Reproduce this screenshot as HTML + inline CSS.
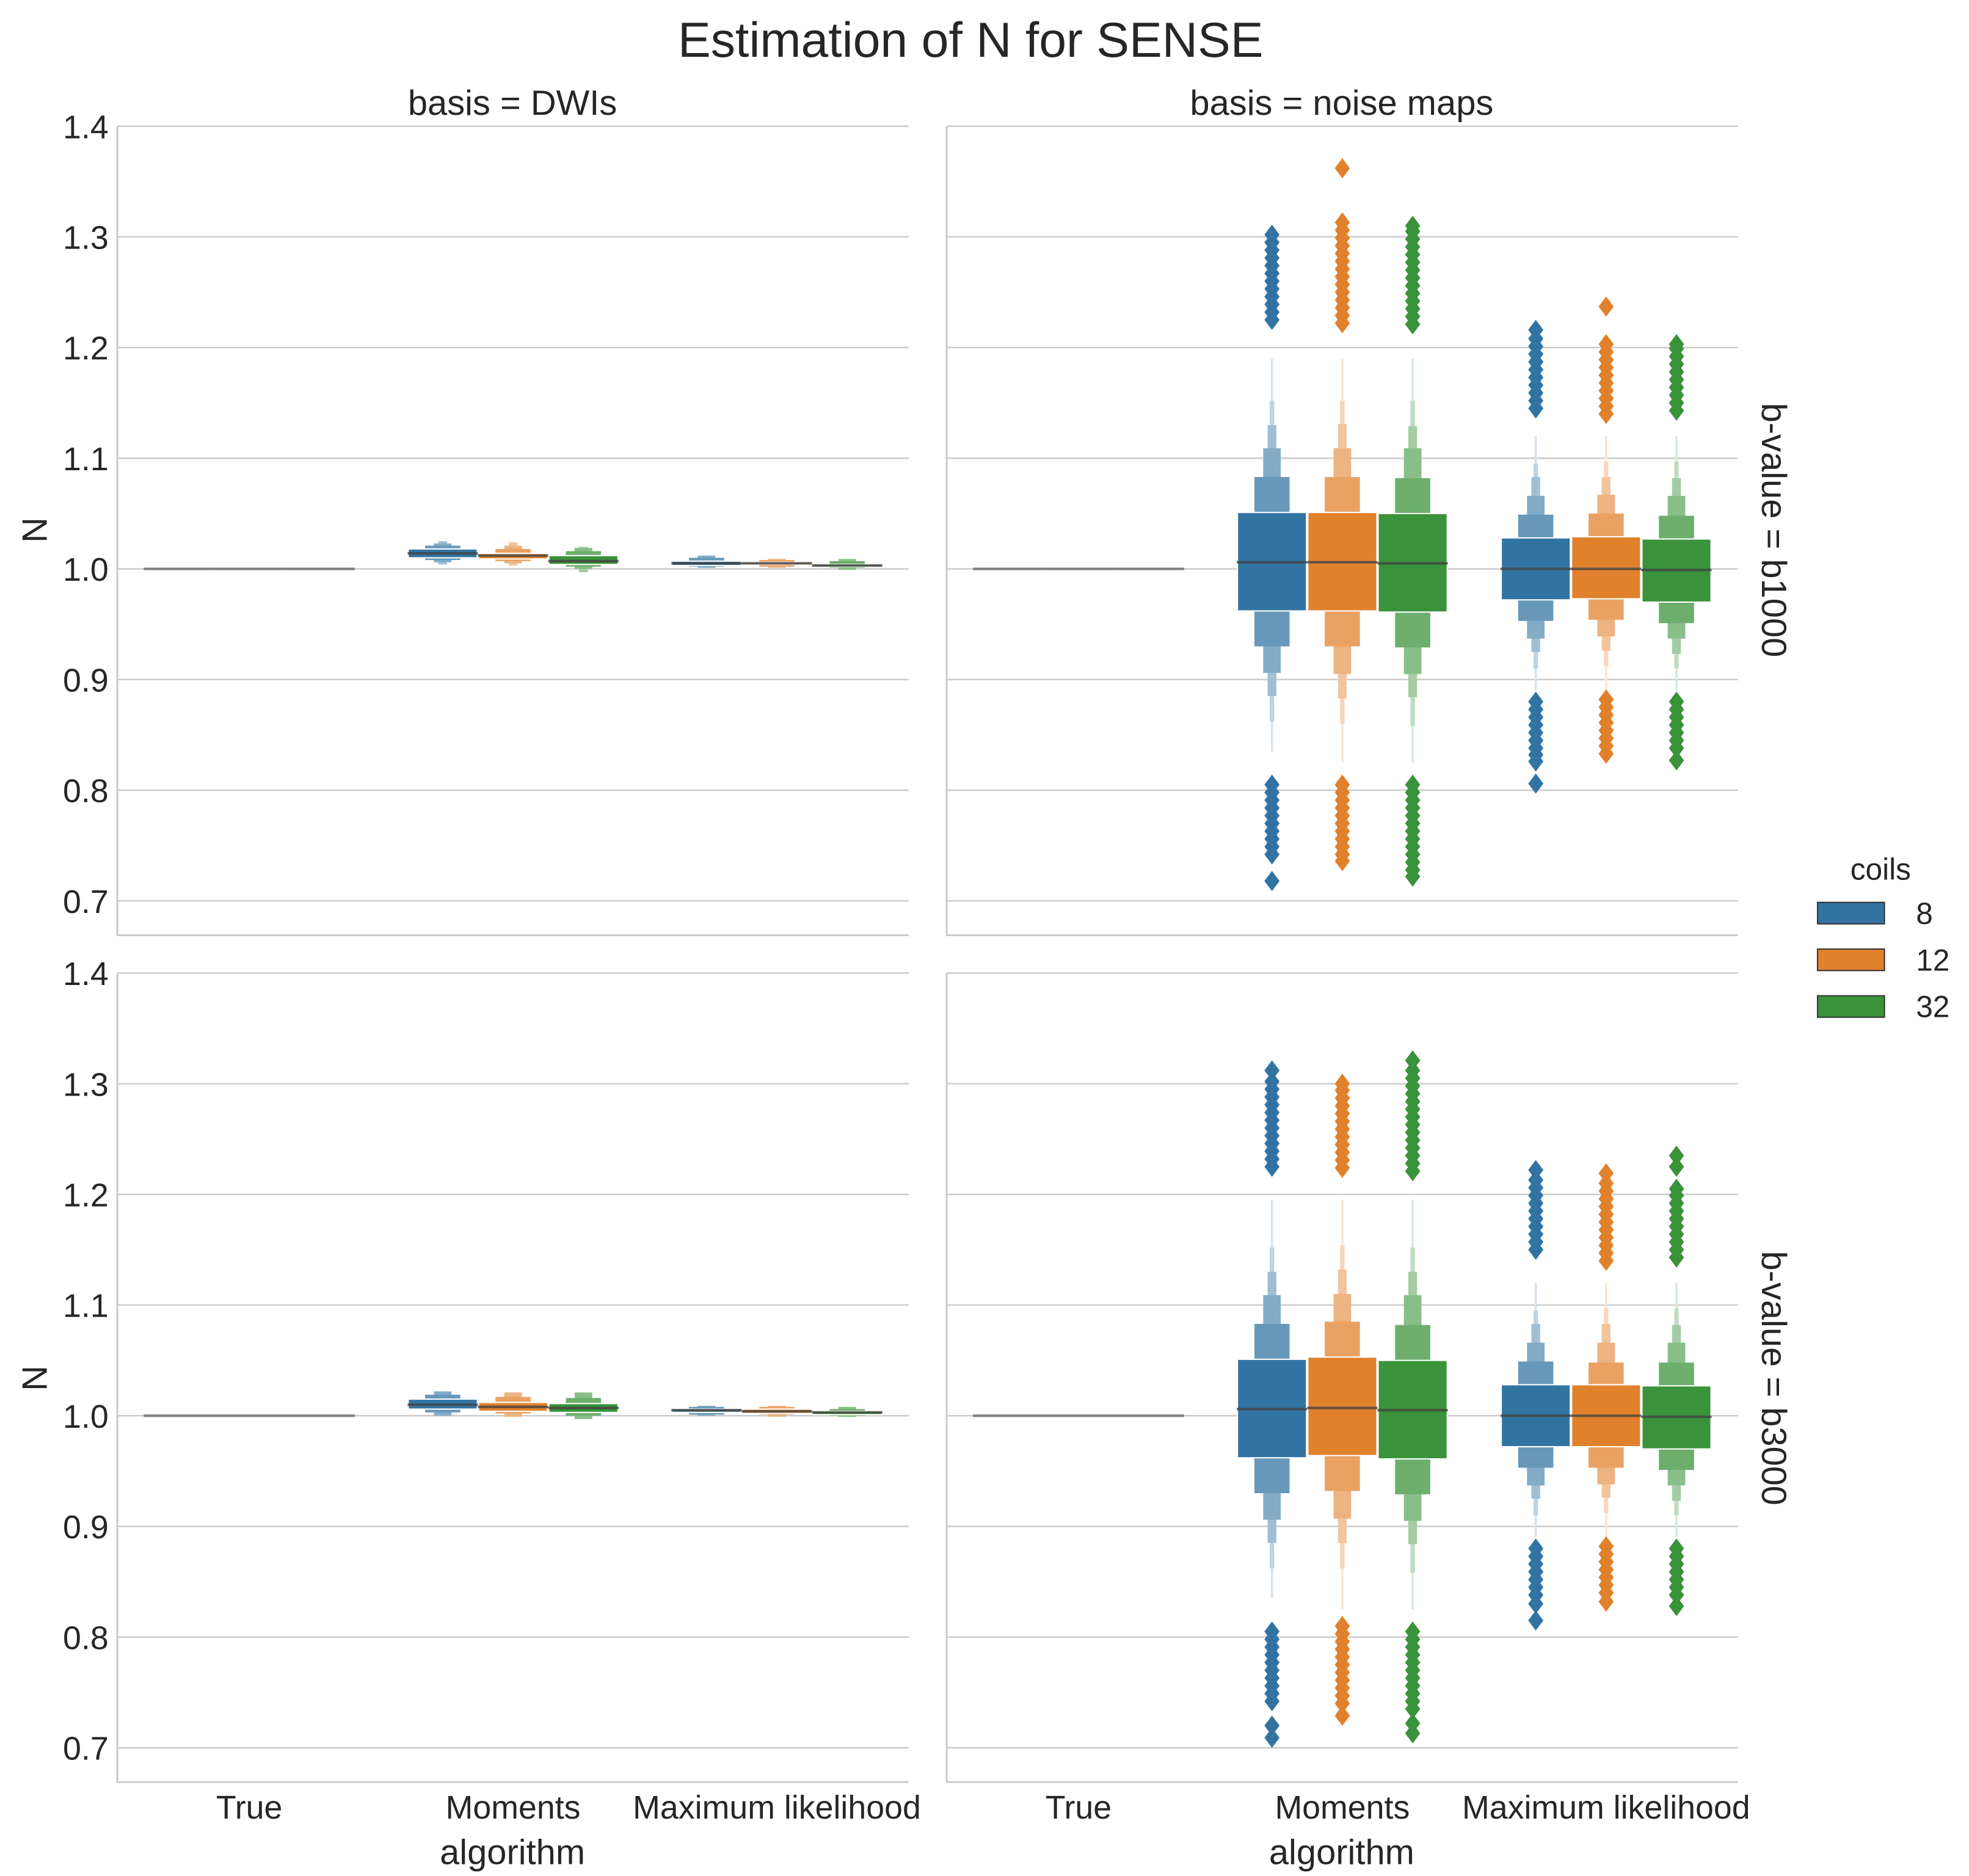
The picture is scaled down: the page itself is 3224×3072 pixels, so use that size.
<!DOCTYPE html>
<html><head><meta charset="utf-8"><style>html,body{margin:0;padding:0;background:#fff}svg{display:block}</style></head>
<body>
<svg id="chart" width="3224" height="3072" viewBox="0 0 1560 1486.45" xmlns="http://www.w3.org/2000/svg" font-family="Liberation Sans, DejaVu Sans, sans-serif" fill="#262626">
<text x="769" y="45" font-size="39" text-anchor="middle">Estimation of N for SENSE</text>
<text x="406" y="91" font-size="28" text-anchor="middle">basis = DWIs</text>
<text x="1063" y="91" font-size="28" text-anchor="middle">basis = noise maps</text>
<text font-size="28" text-anchor="middle" transform="translate(1396,420) rotate(90)">b-value = b1000</text>
<text font-size="28" text-anchor="middle" transform="translate(1396,1092) rotate(90)">b-value = b3000</text>
<text font-size="28" text-anchor="middle" transform="translate(37,420) rotate(-90)">N</text>
<text font-size="28" text-anchor="middle" transform="translate(37,1092) rotate(-90)">N</text>
<text x="406" y="1477" font-size="28" text-anchor="middle">algorithm</text>
<text x="1063" y="1477" font-size="28" text-anchor="middle">algorithm</text>
<g>
<text x="1490" y="697" font-size="24" text-anchor="middle">coils</text>
<rect x="1440" y="715" width="53" height="17" fill="#3274a1" stroke="#333" stroke-width="1"/>
<text x="1518" y="732" font-size="24">8</text>
<rect x="1440" y="752" width="53" height="17" fill="#e1812c" stroke="#333" stroke-width="1"/>
<text x="1518" y="769" font-size="24">12</text>
<rect x="1440" y="789" width="53" height="17" fill="#3a923a" stroke="#333" stroke-width="1"/>
<text x="1518" y="806" font-size="24">32</text>
</g>
<g id="panels"></g>
</svg>
<script>
const categories = ["True", "Moments", "Maximum likelihood"];
const hues = ["8", "12", "32"];
const yTicks = [0.7, 0.8, 0.9, 1.0, 1.1, 1.2, 1.3, 1.4];
const yTickLabels = ["0.7", "0.8", "0.9", "1.0", "1.1", "1.2", "1.3", "1.4"];
const colors = ["#3274a1", "#e1812c", "#3a923a"];

const dwiB1000Medians = [[1,1,1],[1.014,1.012,1.007],[1.005,1.005,1.003]];
const dwiB1000Levels = [
 [[[1,1]],[[1,1]],[[1,1]]],
 [[[1.010,1.018],[1.008,1.021],[1.006,1.023],[1.004,1.025]],[[1.009,1.014],[1.007,1.018],[1.005,1.021],[1.003,1.024]],[[1.004,1.012],[1.002,1.016],[1.000,1.019],[0.997,1.020]]],
 [[[1.003,1.007],[1.002,1.010],[1.001,1.012]],[[1.004,1.006],[1.002,1.008],[1.001,1.009]],[[1.002,1.004],[1.001,1.007],[0.999,1.009]]]
];
const dwiB3000Medians = [[1,1,1],[1.010,1.008,1.007],[1.005,1.004,1.003]];
const dwiB3000Levels = [
 [[[1,1]],[[1,1]],[[1,1]]],
 [[[1.006,1.015],[1.003,1.019],[1.000,1.022]],[[1.004,1.012],[1.002,1.017],[0.999,1.021]],[[1.003,1.011],[1.000,1.016],[0.997,1.021]]],
 [[[1.003,1.006],[1.001,1.008],[1.000,1.009]],[[1.002,1.006],[1.001,1.008],[0.999,1.009]],[[1.001,1.004],[1.000,1.006],[0.999,1.008]]]
];
const noiseB1000Medians = [[1,1,1],[1.006,1.006,1.005],[1.000,1.000,0.999]];
const noiseB1000Levels = [
 [[[1,1]],[[1,1]],[[1,1]]],
 [[[0.962,1.051],[0.930,1.083],[0.906,1.109],[0.885,1.130],[0.862,1.152],[0.835,1.190]],
  [[0.962,1.051],[0.930,1.083],[0.905,1.109],[0.883,1.131],[0.860,1.152],[0.825,1.190]],
  [[0.961,1.050],[0.929,1.082],[0.905,1.109],[0.884,1.129],[0.858,1.152],[0.825,1.190]]],
 [[[0.972,1.028],[0.953,1.049],[0.937,1.066],[0.925,1.083],[0.910,1.095],[0.890,1.120]],
  [[0.973,1.029],[0.954,1.050],[0.939,1.067],[0.926,1.083],[0.912,1.097],[0.890,1.120]],
  [[0.970,1.027],[0.951,1.048],[0.937,1.066],[0.923,1.082],[0.910,1.097],[0.890,1.120]]]
];
const noiseB1000Outliers = [
 [[],[],[]],
 [[1.225,1.232,1.239,1.246,1.253,1.260,1.267,1.274,1.281,1.288,1.295,1.302,0.805,0.798,0.791,0.784,0.777,0.770,0.763,0.756,0.749,0.742,0.718],
  [1.222,1.229,1.236,1.243,1.250,1.257,1.264,1.271,1.278,1.285,1.292,1.299,1.306,1.313,1.362,0.805,0.798,0.791,0.784,0.777,0.770,0.763,0.756,0.749,0.742,0.736],
  [1.221,1.228,1.235,1.242,1.249,1.256,1.263,1.270,1.277,1.284,1.291,1.298,1.305,1.310,0.805,0.798,0.791,0.784,0.777,0.770,0.763,0.756,0.749,0.742,0.735,0.728,0.722]],
 [[1.145,1.152,1.159,1.166,1.173,1.180,1.187,1.194,1.201,1.208,1.216,0.880,0.873,0.866,0.859,0.852,0.845,0.838,0.832,0.826,0.806],
  [1.140,1.147,1.154,1.161,1.168,1.175,1.182,1.189,1.196,1.203,1.237,0.882,0.875,0.868,0.861,0.854,0.847,0.840,0.833],
  [1.143,1.150,1.157,1.164,1.171,1.178,1.185,1.192,1.199,1.203,0.880,0.873,0.866,0.859,0.852,0.845,0.838,0.827]]
];
const noiseB3000Medians = [[1,1,1],[1.006,1.007,1.005],[1.000,1.000,0.999]];
const noiseB3000Levels = [
 [[[1,1]],[[1,1]],[[1,1]]],
 [[[0.962,1.051],[0.930,1.083],[0.906,1.109],[0.885,1.130],[0.862,1.152],[0.835,1.195]],
  [[0.964,1.053],[0.932,1.085],[0.907,1.110],[0.885,1.132],[0.862,1.154],[0.825,1.195]],
  [[0.961,1.050],[0.929,1.082],[0.905,1.109],[0.884,1.130],[0.858,1.152],[0.825,1.195]]],
 [[[0.972,1.028],[0.953,1.049],[0.937,1.066],[0.925,1.083],[0.910,1.095],[0.890,1.120]],
  [[0.972,1.028],[0.953,1.048],[0.938,1.066],[0.926,1.083],[0.912,1.097],[0.890,1.120]],
  [[0.970,1.027],[0.951,1.048],[0.937,1.066],[0.923,1.082],[0.910,1.097],[0.890,1.120]]]
];
const noiseB3000Outliers = [
 [[],[],[]],
 [[1.225,1.232,1.239,1.246,1.253,1.260,1.267,1.274,1.281,1.288,1.295,1.302,1.312,0.805,0.798,0.791,0.784,0.777,0.770,0.763,0.756,0.749,0.742,0.720,0.709],
  [1.224,1.231,1.238,1.245,1.252,1.259,1.266,1.273,1.280,1.287,1.294,1.300,0.810,0.803,0.796,0.789,0.782,0.775,0.768,0.761,0.754,0.747,0.740,0.729],
  [1.221,1.228,1.235,1.242,1.249,1.256,1.263,1.270,1.277,1.284,1.291,1.298,1.305,1.312,1.321,0.805,0.798,0.791,0.784,0.777,0.770,0.763,0.756,0.749,0.742,0.735,0.722,0.713]],
 [[1.150,1.157,1.164,1.171,1.178,1.185,1.192,1.199,1.206,1.213,1.222,0.880,0.873,0.866,0.859,0.852,0.845,0.838,0.830,0.815],
  [1.140,1.147,1.154,1.161,1.168,1.175,1.182,1.189,1.196,1.203,1.210,1.219,0.882,0.875,0.868,0.861,0.854,0.847,0.840,0.832],
  [1.143,1.150,1.157,1.164,1.171,1.178,1.185,1.192,1.199,1.205,1.225,1.235,0.880,0.873,0.866,0.859,0.852,0.845,0.838,0.828]]
];
const emptyOutliers = [[[],[],[]],[[],[],[]],[[],[],[]]];

const NS = "http://www.w3.org/2000/svg";
const root = document.getElementById("panels");
const Y_MIN = 0.669, Y_MAX = 1.4;

function mk(tag, attrs, parent){
  const e = document.createElementNS(NS, tag);
  for (const k in attrs) e.setAttribute(k, attrs[k]);
  parent.appendChild(e);
  return e;
}
function lighten(hex, f){
  const r=parseInt(hex.substr(1,2),16), g=parseInt(hex.substr(3,2),16), b=parseInt(hex.substr(5,2),16);
  const m=c=>Math.round(c+(255-c)*f);
  return "rgb("+m(r)+","+m(g)+","+m(b)+")";
}

function drawPanel(name, x0, x1, y0, y1, showYLabels, showXLabels, medians, levels, outliers){
  const g = mk("g", {}, root);
  
  
  const yS = v => y1 - (v - Y_MIN) / (Y_MAX - Y_MIN) * (y1 - y0);
  const band = (x1 - x0) / categories.length;
  const xC = i => x0 + band * (i + 0.5);
  const hw = band * 0.8 / hues.length;
  yTicks.forEach((t, i) => {
    const gl = mk("line", {x1:x0, x2:x1, y1:yS(t), y2:yS(t), stroke:"#cccccc", "stroke-width":1.2}, g);
    
    
    if (showYLabels){
      const tl = mk("text", {x:x0-7, y:yS(t)+9.5, "font-size":26, "text-anchor":"end"}, g);
      tl.textContent = yTickLabels[i];
      
      
    }
  });
  const sp = mk("path", {d:`M${x0},${y0}V${y1}H${x1}`, fill:"none", stroke:"#cccccc", "stroke-width":1.5}, g);
  
  
  categories.forEach((c, ci) => {
    if (showXLabels){
      const tl = mk("text", {x:xC(ci), y:y1+29, "font-size":26, "text-anchor":"middle"}, g);
      tl.textContent = c;
      
      
    }
    hues.forEach((h, hi) => {
      const cx = xC(ci) - band*0.4 + hw*(hi + 0.5);
      const col = colors[hi];
      const lv = levels[ci][hi];
      const med = medians[ci][hi];
      if (ci === 0){
        const ln = mk("line", {x1:cx-hw/2, x2:cx+hw/2, y1:yS(med), y2:yS(med), stroke:"#7f7f7f", "stroke-width":2}, g);
        
        
        return;
      }
      for (let k = lv.length - 1; k >= 0; k--){
        const w = hw * Math.pow(0.5, k) - (k===0?1:0);
        const top = yS(lv[k][1]), bot = yS(lv[k][0]);
        const r = mk("rect", {x:cx-w/2, y:top, width:w, height:Math.max(bot-top,1.5), fill: k===0?col:lighten(col, Math.min(0.12+0.14*k,0.8)), stroke:k===0?"#fff":"none", "stroke-width":1}, g);
        
        
      }
      const ml = mk("line", {x1:cx-hw/2, x2:cx+hw/2, y1:yS(med), y2:yS(med), stroke:"#444", "stroke-opacity":0.8, "stroke-width":2}, g);
      
      
      outliers[ci][hi].forEach(v => {
        const y = yS(v);
        const d = mk("path", {d:`M${cx},${y-8}L${cx+6},${y}L${cx},${y+8}L${cx-6},${y}Z`, fill:col}, g);
        
        
      });
    });
  });
}

drawPanel("panel-dwis-b1000", 93, 720, 100, 741, true, false, dwiB1000Medians, dwiB1000Levels, emptyOutliers);
drawPanel("panel-noise-b1000", 750, 1377, 100, 741, false, false, noiseB1000Medians, noiseB1000Levels, noiseB1000Outliers);
drawPanel("panel-dwis-b3000", 93, 720, 771, 1412, true, true, dwiB3000Medians, dwiB3000Levels, emptyOutliers);
drawPanel("panel-noise-b3000", 750, 1377, 771, 1412, false, true, noiseB3000Medians, noiseB3000Levels, noiseB3000Outliers);
</script>
</body></html>
